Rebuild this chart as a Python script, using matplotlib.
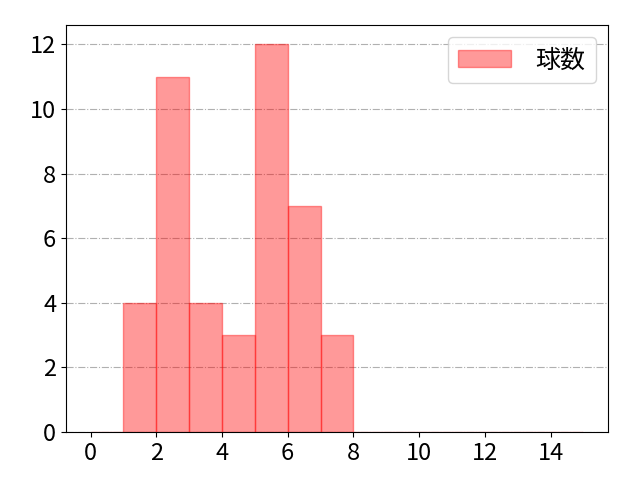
from matplotlib import pyplot as plt
import numpy as np

plt.rcParams['font.family'] = ['Noto Sans CJK JP', 'DejaVu Sans']
plt.rcParams['font.size'] = 17

# counts per bin (bin edges 0..15)
bin_edges = np.arange(0, 16, 1)
counts = [0, 4, 11, 4, 3, 12, 7, 3, 0, 0, 0, 0, 0, 0, 0]
label = '球数'

fig, ax = plt.subplots(figsize=(6.4, 4.8), dpi=100)
ax.bar(bin_edges[:-1], counts, width=1.0, align='edge', color='red', alpha=0.4,
       edgecolor='red', linewidth=1.0, label=label)
ax.set_xticks(np.arange(0, 16, 2))
ax.set_yticks(np.arange(0, 13, 2))
ax.grid(True, axis='y', linestyle='-.', color='#b0b0b0')
ax.set_axisbelow(True)
ax.legend(loc='upper right', fontsize=18, handlelength=2.1, handletextpad=1.0)

fig.subplots_adjust(left=0.103, right=0.95, bottom=0.1, top=0.948)
fig.savefig('out.png')
